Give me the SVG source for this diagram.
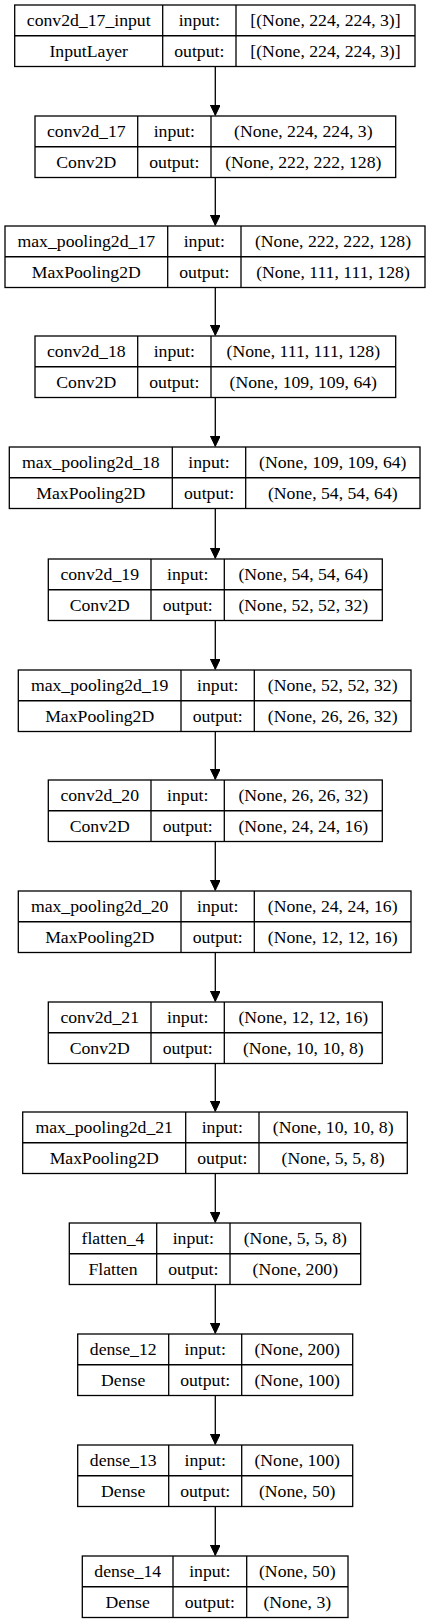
<svg xmlns="http://www.w3.org/2000/svg" width="431" height="1623" viewBox="0 0 431 1623">
<style>
.b{fill:#fff;stroke:#000;stroke-width:1.3}
.l{stroke:#000;stroke-width:1.3;fill:none}
text{font-family:"Liberation Serif","Times New Roman",serif;font-size:17.7px;fill:#000;text-anchor:middle}
</style>
<defs>
<marker id="ah" markerUnits="userSpaceOnUse" markerWidth="12" markerHeight="14" refX="10.5" refY="5" orient="auto">
<path d="M0,0 L10.5,5 L0,10 Z" fill="#000" stroke="#000" stroke-width="1"/>
</marker>
</defs>
<rect width="431" height="1623" fill="#fff"/>
<g id="connectors">
<line class="l" x1="215.3" y1="66.5" x2="215.3" y2="115.3" marker-end="url(#ah)"/>
<line class="l" x1="215.3" y1="177.5" x2="215.3" y2="225.3" marker-end="url(#ah)"/>
<line class="l" x1="215.3" y1="287.5" x2="215.3" y2="335.3" marker-end="url(#ah)"/>
<line class="l" x1="215.3" y1="397.5" x2="215.3" y2="446.3" marker-end="url(#ah)"/>
<line class="l" x1="215.3" y1="508.5" x2="215.3" y2="558.3" marker-end="url(#ah)"/>
<line class="l" x1="215.3" y1="620.5" x2="215.3" y2="669.3" marker-end="url(#ah)"/>
<line class="l" x1="215.3" y1="731.5" x2="215.3" y2="779.3" marker-end="url(#ah)"/>
<line class="l" x1="215.3" y1="841.5" x2="215.3" y2="890.3" marker-end="url(#ah)"/>
<line class="l" x1="215.3" y1="952.5" x2="215.3" y2="1001.3" marker-end="url(#ah)"/>
<line class="l" x1="215.3" y1="1063.5" x2="215.3" y2="1111.3" marker-end="url(#ah)"/>
<line class="l" x1="215.3" y1="1173.5" x2="215.3" y2="1222.3" marker-end="url(#ah)"/>
<line class="l" x1="215.3" y1="1284.5" x2="215.3" y2="1333.3" marker-end="url(#ah)"/>
<line class="l" x1="215.3" y1="1395.5" x2="215.3" y2="1444.3" marker-end="url(#ah)"/>
<line class="l" x1="215.3" y1="1506.5" x2="215.3" y2="1555.3" marker-end="url(#ah)"/>
</g>

<g id="conv2d_17_input" transform="translate(0,5)">
<rect class="b" x="14.7" y="0" width="400.3" height="61.5"/>
<line class="l" x1="14.7" y1="30.75" x2="415" y2="30.75"/>
<line class="l" x1="162.7" y1="0" x2="162.7" y2="61.5"/>
<line class="l" x1="236" y1="0" x2="236" y2="61.5"/>
<text x="88.7" y="21.3">conv2d_17_input</text><text x="199.3" y="21.3">input:</text><text x="325.5" y="21.3">[(None, 224, 224, 3)]</text>
<text x="88.7" y="52.3">InputLayer</text><text x="199.3" y="52.3">output:</text><text x="325.5" y="52.3">[(None, 224, 224, 3)]</text>
</g>

<g id="conv2d_17" transform="translate(0,116)">
<rect class="b" x="35" y="0" width="360.7" height="61.5"/>
<line class="l" x1="35" y1="30.75" x2="395.7" y2="30.75"/>
<line class="l" x1="137.7" y1="0" x2="137.7" y2="61.5"/>
<line class="l" x1="211" y1="0" x2="211" y2="61.5"/>
<text x="86.3" y="21.3">conv2d_17</text><text x="174.3" y="21.3">input:</text><text x="303.3" y="21.3">(None, 224, 224, 3)</text>
<text x="86.3" y="52.3">Conv2D</text><text x="174.3" y="52.3">output:</text><text x="303.3" y="52.3">(None, 222, 222, 128)</text>
</g>

<g id="max_pooling2d_17" transform="translate(0,226)">
<rect class="b" x="5" y="0" width="420" height="61.5"/>
<line class="l" x1="5" y1="30.75" x2="425" y2="30.75"/>
<line class="l" x1="167.7" y1="0" x2="167.7" y2="61.5"/>
<line class="l" x1="241" y1="0" x2="241" y2="61.5"/>
<text x="86.3" y="21.3">max_pooling2d_17</text><text x="204.3" y="21.3">input:</text><text x="333" y="21.3">(None, 222, 222, 128)</text>
<text x="86.3" y="52.3">MaxPooling2D</text><text x="204.3" y="52.3">output:</text><text x="333" y="52.3">(None, 111, 111, 128)</text>
</g>

<g id="conv2d_18" transform="translate(0,336)">
<rect class="b" x="35" y="0" width="360.7" height="61.5"/>
<line class="l" x1="35" y1="30.75" x2="395.7" y2="30.75"/>
<line class="l" x1="137.7" y1="0" x2="137.7" y2="61.5"/>
<line class="l" x1="211" y1="0" x2="211" y2="61.5"/>
<text x="86.3" y="21.3">conv2d_18</text><text x="174.3" y="21.3">input:</text><text x="303.3" y="21.3">(None, 111, 111, 128)</text>
<text x="86.3" y="52.3">Conv2D</text><text x="174.3" y="52.3">output:</text><text x="303.3" y="52.3">(None, 109, 109, 64)</text>
</g>

<g id="max_pooling2d_18" transform="translate(0,447)">
<rect class="b" x="9.3" y="0" width="410.7" height="61.5"/>
<line class="l" x1="9.3" y1="30.75" x2="420" y2="30.75"/>
<line class="l" x1="172.3" y1="0" x2="172.3" y2="61.5"/>
<line class="l" x1="245.7" y1="0" x2="245.7" y2="61.5"/>
<text x="90.8" y="21.3">max_pooling2d_18</text><text x="209" y="21.3">input:</text><text x="332.8" y="21.3">(None, 109, 109, 64)</text>
<text x="90.8" y="52.3">MaxPooling2D</text><text x="209" y="52.3">output:</text><text x="332.8" y="52.3">(None, 54, 54, 64)</text>
</g>

<g id="conv2d_19" transform="translate(0,559)">
<rect class="b" x="48.3" y="0" width="334" height="61.5"/>
<line class="l" x1="48.3" y1="30.75" x2="382.3" y2="30.75"/>
<line class="l" x1="151" y1="0" x2="151" y2="61.5"/>
<line class="l" x1="224.3" y1="0" x2="224.3" y2="61.5"/>
<text x="99.7" y="21.3">conv2d_19</text><text x="187.7" y="21.3">input:</text><text x="303.3" y="21.3">(None, 54, 54, 64)</text>
<text x="99.7" y="52.3">Conv2D</text><text x="187.7" y="52.3">output:</text><text x="303.3" y="52.3">(None, 52, 52, 32)</text>
</g>

<g id="max_pooling2d_19" transform="translate(0,670)">
<rect class="b" x="18.3" y="0" width="392.7" height="61.5"/>
<line class="l" x1="18.3" y1="30.75" x2="411" y2="30.75"/>
<line class="l" x1="181" y1="0" x2="181" y2="61.5"/>
<line class="l" x1="254.3" y1="0" x2="254.3" y2="61.5"/>
<text x="99.7" y="21.3">max_pooling2d_19</text><text x="217.7" y="21.3">input:</text><text x="332.7" y="21.3">(None, 52, 52, 32)</text>
<text x="99.7" y="52.3">MaxPooling2D</text><text x="217.7" y="52.3">output:</text><text x="332.7" y="52.3">(None, 26, 26, 32)</text>
</g>

<g id="conv2d_20" transform="translate(0,780)">
<rect class="b" x="48.3" y="0" width="334" height="61.5"/>
<line class="l" x1="48.3" y1="30.75" x2="382.3" y2="30.75"/>
<line class="l" x1="151" y1="0" x2="151" y2="61.5"/>
<line class="l" x1="224.3" y1="0" x2="224.3" y2="61.5"/>
<text x="99.7" y="21.3">conv2d_20</text><text x="187.7" y="21.3">input:</text><text x="303.3" y="21.3">(None, 26, 26, 32)</text>
<text x="99.7" y="52.3">Conv2D</text><text x="187.7" y="52.3">output:</text><text x="303.3" y="52.3">(None, 24, 24, 16)</text>
</g>

<g id="max_pooling2d_20" transform="translate(0,891)">
<rect class="b" x="18.3" y="0" width="392.7" height="61.5"/>
<line class="l" x1="18.3" y1="30.75" x2="411" y2="30.75"/>
<line class="l" x1="181" y1="0" x2="181" y2="61.5"/>
<line class="l" x1="254.3" y1="0" x2="254.3" y2="61.5"/>
<text x="99.7" y="21.3">max_pooling2d_20</text><text x="217.7" y="21.3">input:</text><text x="332.7" y="21.3">(None, 24, 24, 16)</text>
<text x="99.7" y="52.3">MaxPooling2D</text><text x="217.7" y="52.3">output:</text><text x="332.7" y="52.3">(None, 12, 12, 16)</text>
</g>

<g id="conv2d_21" transform="translate(0,1002)">
<rect class="b" x="48.3" y="0" width="334" height="61.5"/>
<line class="l" x1="48.3" y1="30.75" x2="382.3" y2="30.75"/>
<line class="l" x1="151" y1="0" x2="151" y2="61.5"/>
<line class="l" x1="224.3" y1="0" x2="224.3" y2="61.5"/>
<text x="99.7" y="21.3">conv2d_21</text><text x="187.7" y="21.3">input:</text><text x="303.3" y="21.3">(None, 12, 12, 16)</text>
<text x="99.7" y="52.3">Conv2D</text><text x="187.7" y="52.3">output:</text><text x="303.3" y="52.3">(None, 10, 10, 8)</text>
</g>

<g id="max_pooling2d_21" transform="translate(0,1112)">
<rect class="b" x="22.7" y="0" width="384.6" height="61.5"/>
<line class="l" x1="22.7" y1="30.75" x2="407.3" y2="30.75"/>
<line class="l" x1="185.7" y1="0" x2="185.7" y2="61.5"/>
<line class="l" x1="259" y1="0" x2="259" y2="61.5"/>
<text x="104.2" y="21.3">max_pooling2d_21</text><text x="222.3" y="21.3">input:</text><text x="333.2" y="21.3">(None, 10, 10, 8)</text>
<text x="104.2" y="52.3">MaxPooling2D</text><text x="222.3" y="52.3">output:</text><text x="333.2" y="52.3">(None, 5, 5, 8)</text>
</g>

<g id="flatten_4" transform="translate(0,1223)">
<rect class="b" x="69.3" y="0" width="291.4" height="61.5"/>
<line class="l" x1="69.3" y1="30.75" x2="360.7" y2="30.75"/>
<line class="l" x1="156.7" y1="0" x2="156.7" y2="61.5"/>
<line class="l" x1="230" y1="0" x2="230" y2="61.5"/>
<text x="113" y="21.3">flatten_4</text><text x="193.3" y="21.3">input:</text><text x="295.3" y="21.3">(None, 5, 5, 8)</text>
<text x="113" y="52.3">Flatten</text><text x="193.3" y="52.3">output:</text><text x="295.3" y="52.3">(None, 200)</text>
</g>

<g id="dense_12" transform="translate(0,1334)">
<rect class="b" x="77.7" y="0" width="275" height="61.5"/>
<line class="l" x1="77.7" y1="30.75" x2="352.7" y2="30.75"/>
<line class="l" x1="168.7" y1="0" x2="168.7" y2="61.5"/>
<line class="l" x1="241.7" y1="0" x2="241.7" y2="61.5"/>
<text x="123.2" y="21.3">dense_12</text><text x="205.2" y="21.3">input:</text><text x="297.2" y="21.3">(None, 200)</text>
<text x="123.2" y="52.3">Dense</text><text x="205.2" y="52.3">output:</text><text x="297.2" y="52.3">(None, 100)</text>
</g>

<g id="dense_13" transform="translate(0,1445)">
<rect class="b" x="77.7" y="0" width="275" height="61.5"/>
<line class="l" x1="77.7" y1="30.75" x2="352.7" y2="30.75"/>
<line class="l" x1="168.7" y1="0" x2="168.7" y2="61.5"/>
<line class="l" x1="241.7" y1="0" x2="241.7" y2="61.5"/>
<text x="123.2" y="21.3">dense_13</text><text x="205.2" y="21.3">input:</text><text x="297.2" y="21.3">(None, 100)</text>
<text x="123.2" y="52.3">Dense</text><text x="205.2" y="52.3">output:</text><text x="297.2" y="52.3">(None, 50)</text>
</g>

<g id="dense_14" transform="translate(0,1556)">
<rect class="b" x="82.3" y="0" width="265.7" height="61.5"/>
<line class="l" x1="82.3" y1="30.75" x2="348" y2="30.75"/>
<line class="l" x1="173" y1="0" x2="173" y2="61.5"/>
<line class="l" x1="246.7" y1="0" x2="246.7" y2="61.5"/>
<text x="127.7" y="21.3">dense_14</text><text x="209.8" y="21.3">input:</text><text x="297.3" y="21.3">(None, 50)</text>
<text x="127.7" y="52.3">Dense</text><text x="209.8" y="52.3">output:</text><text x="297.3" y="52.3">(None, 3)</text>
</g>
</svg>
